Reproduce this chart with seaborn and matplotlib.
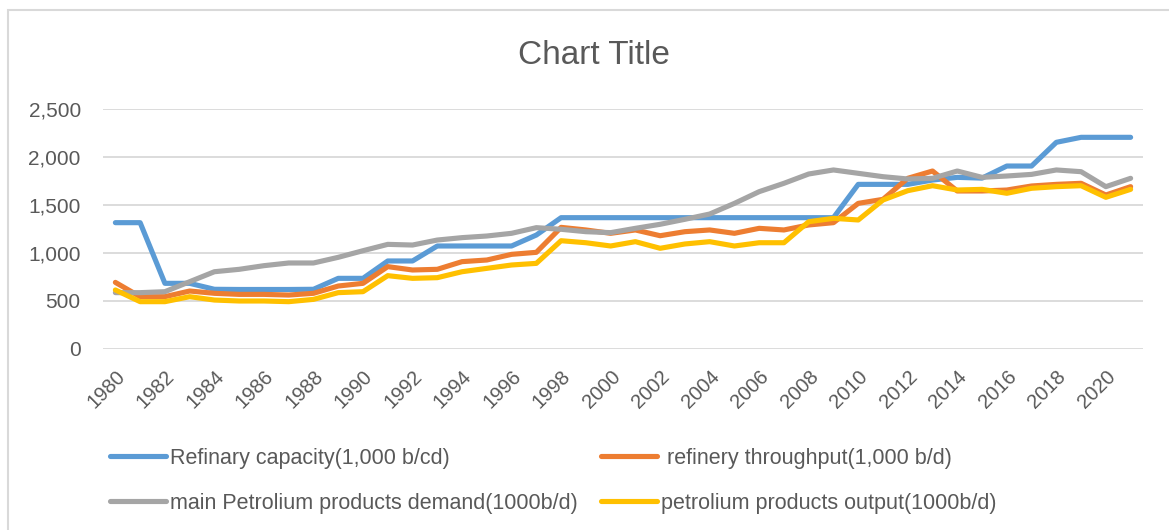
import numpy as np
import pandas as pd
import matplotlib
matplotlib.use("Agg")
import matplotlib.pyplot as plt
import seaborn as sns
from matplotlib.patches import Rectangle

years = list(range(1980, 2022))

refinery_capacity = [1316, 1316, 684, 684, 622, 620, 620, 620, 622, 736,
                     736, 917, 917, 1073, 1073, 1073, 1073, 1187, 1368, 1368,
                     1368, 1368, 1368, 1368, 1368, 1368, 1368, 1368, 1368, 1368,
                     1715, 1715, 1715, 1760, 1788, 1780, 1906, 1906, 2153, 2205,
                     2205, 2205]
refinery_throughput = [694, 545, 545, 604, 580, 569, 569, 562, 580, 656,
                       684, 858, 823, 830, 910, 927, 986, 1007, 1267, 1240,
                       1205, 1240, 1180, 1222, 1240, 1205, 1257, 1240, 1292, 1316,
                       1517, 1559, 1778, 1854, 1646, 1646, 1656, 1698, 1715, 1726,
                       1604, 1691]
products_demand = [587, 587, 597, 701, 805, 830, 868, 896, 896, 955,
                   1024, 1090, 1083, 1135, 1160, 1177, 1205, 1264, 1247, 1222,
                   1212, 1257, 1299, 1351, 1406, 1517, 1639, 1726, 1823, 1865,
                   1830, 1795, 1771, 1778, 1854, 1788, 1802, 1819, 1865, 1847,
                   1691, 1778]
products_output = [615, 493, 493, 545, 510, 500, 500, 493, 517, 587,
                   597, 764, 736, 743, 805, 840, 875, 892, 1128, 1107,
                   1073, 1118, 1049, 1094, 1118, 1073, 1107, 1107, 1326, 1361,
                   1344, 1552, 1649, 1701, 1656, 1663, 1622, 1674, 1691, 1701,
                   1580, 1663]

series_names = ["Refinary capacity(1,000 b/cd)",
                " refinery throughput(1,000 b/d)",
                "main Petrolium products demand(1000b/d)",
                "petrolium products output(1000b/d)"]
colors = ["#5B9BD5", "#ED7D31", "#A5A5A5", "#FFC000"]

df = pd.DataFrame({
    "year": years,
    series_names[0]: refinery_capacity,
    series_names[1]: refinery_throughput,
    series_names[2]: products_demand,
    series_names[3]: products_output,
})
long_df = df.melt(id_vars="year", var_name="series", value_name="value")

sns.set_style("white")
plt.rcParams["font.family"] = ["Liberation Sans", "DejaVu Sans"]
text_color = "#595959"

fig = plt.figure(figsize=(11.69, 5.30), dpi=100)
ax = fig.add_axes([103 / 1169, 1 - 349 / 530, 1040 / 1169, 240 / 530])

sns.lineplot(data=long_df, x="year", y="value", hue="series",
             hue_order=series_names, palette=colors, linewidth=3.7,
             ax=ax, legend=True)
for line in ax.get_lines():
    line.set_solid_capstyle("round")
    line.set_solid_joinstyle("round")

ax.set_xlim(1979.5, 2021.5)
ax.set_ylim(0, 2500)
ax.set_yticks(range(0, 2501, 500))
ax.set_yticklabels([f"{v:,}" for v in range(0, 2501, 500)])
ax.set_xticks(years[::2])
ax.set_xticklabels([str(y) for y in years[::2]], rotation=45, ha="right",
                   rotation_mode="anchor")
ax.tick_params(axis="both", length=0, labelsize=15, labelcolor=text_color)
ax.tick_params(axis="x", pad=13, labelsize=14.5)
ax.tick_params(axis="y", pad=16)
ax.grid(axis="y", color="#D9D9D9", linewidth=1.3)
ax.grid(axis="x", visible=False)
for s in ax.spines.values():
    s.set_visible(False)
ax.set_xlabel("")
ax.set_ylabel("")

# legend is filled row by row in the original
handles, labels = ax.get_legend_handles_labels()
ax.get_legend().remove()
order = [0, 2, 1, 3]
handles = [handles[i] for i in order]
labels = [labels[i] for i in order]
for h in handles:
    h.set_linewidth(3.7)
    h.set_solid_capstyle("round")
fig.legend(handles, labels, loc="upper left", ncol=2,
           bbox_to_anchor=(110 / 1169, 1 - 448 / 530), frameon=False,
           fontsize=15.5, labelcolor=text_color, handlelength=2.6,
           handletextpad=0.2, columnspacing=1.05, labelspacing=1.1,
           borderpad=0, borderaxespad=0)

fig.text(594 / 1169, 1 - 56 / 530, "Chart Title", ha="center", va="center",
         fontsize=24, color=text_color)

fig.patches.append(Rectangle((8 / 1169, -0.1), 1.2, 1 - 10 / 530 + 0.1,
                             transform=fig.transFigure, fill=False,
                             edgecolor="#D9D9D9", linewidth=1.5))

fig.savefig("out.png", dpi=100)
